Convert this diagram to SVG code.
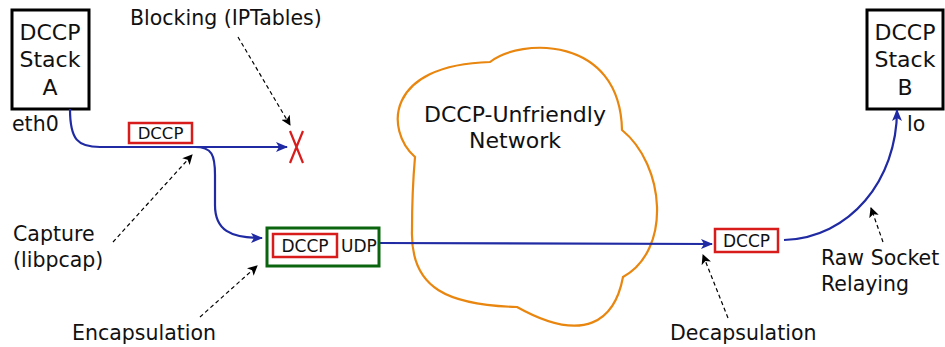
<svg xmlns="http://www.w3.org/2000/svg" width="945" height="347" viewBox="0 0 945 347">
<defs>
<style>
text{font-family:"DejaVu Sans",sans-serif;fill:#111}
.lbl{font-size:20.5px}
.big{font-size:22px}
.small{font-size:16.5px}
.stack{fill:#fff;stroke:#000;stroke-width:3}
.pkt{fill:#fff;stroke:#d81c1c;stroke-width:2.5}
.flow{fill:none;stroke:#1f2aa3;stroke-width:2.2}
.note{fill:none;stroke:#000;stroke-width:1.2;stroke-dasharray:4,3}
</style>
<marker id="blue" viewBox="0 0 12 10" refX="11" refY="5" markerWidth="12" markerHeight="10" markerUnits="userSpaceOnUse" orient="auto">
<path d="M0,0 L12,5 L0,10 L3,5 Z" fill="#1f2aa3"/>
</marker>
<marker id="blk" viewBox="0 0 10 10" refX="9" refY="5" markerWidth="10" markerHeight="10" markerUnits="userSpaceOnUse" orient="auto">
<path d="M0,0 L10,5 L0,10 L2.5,5 Z" fill="#000"/>
</marker>
</defs>
<g id="cloud">
<path d="M415,157 C385,130 385,65 490,62 C520,38 620,35 622,130 C665,165 672,250 623,277 C615,320 585,345 517,307 C450,305 410,290 412,230 C412,200 413,180 415,157 Z" fill="none" stroke="#e8860f" stroke-width="2.2"/>
<text class="big" x="515" y="122" text-anchor="middle">DCCP-Unfriendly</text>
<text class="big" x="515" y="148" text-anchor="middle">Network</text>
</g>
<g id="stackA">
<rect class="stack" x="12" y="10" width="77" height="99"/>
<text class="big" x="50" y="40" text-anchor="middle">DCCP</text>
<text class="big" x="50" y="67" text-anchor="middle">Stack</text>
<text class="big" x="50" y="95" text-anchor="middle">A</text>
<text class="lbl" x="12" y="131">eth0</text>
</g>
<g id="stackB">
<rect class="stack" x="867" y="10" width="76" height="99"/>
<text class="big" x="905" y="40" text-anchor="middle">DCCP</text>
<text class="big" x="905" y="67" text-anchor="middle">Stack</text>
<text class="big" x="905" y="95" text-anchor="middle">B</text>
<text class="lbl" x="907" y="131">lo</text>
</g>
<g id="connectors">
<path class="flow" d="M70,109 C70,140 78,147 100,147 L287,147" marker-end="url(#blue)"/>
<path class="flow" d="M195,147 C212,147 215,155 215,175 L215,205 C215,230 230,238 262,238" marker-end="url(#blue)"/>
<path class="flow" d="M379,243 L712,244" marker-end="url(#blue)"/>
<path class="flow" d="M784,240 C850,238 897,180 897,110" marker-end="url(#blue)"/>
<path class="note" d="M238,37 L290,125" marker-end="url(#blk)"/>
<path class="note" d="M113,242 L192,155" marker-end="url(#blk)"/>
<path class="note" d="M200,317 L257,266" marker-end="url(#blk)"/>
<path class="note" d="M728,318 L703,255" marker-end="url(#blk)"/>
<path class="note" d="M883,242 L871,208" marker-end="url(#blk)"/>
</g>
<g id="blocked">
<path d="M290,131 L303,163 M303,131 L290,163" stroke="#d81c1c" stroke-width="2.2" fill="none"/>
</g>
<g id="pktA">
<rect class="pkt" x="129" y="123" width="63" height="20"/>
<text class="small" x="160.5" y="139" text-anchor="middle">DCCP</text>
</g>
<g id="encap">
<rect x="267" y="228" width="112" height="38" fill="#fff" stroke="#0b650f" stroke-width="3"/>
<rect class="pkt" x="273" y="234" width="64" height="23"/>
<text x="305" y="252" text-anchor="middle" style="font-size:17px">DCCP</text>
<text x="341" y="252" style="font-size:17px">UDP</text>
</g>
<g id="pktB">
<rect class="pkt" x="715" y="229" width="63" height="23"/>
<text x="746.5" y="246.5" text-anchor="middle" style="font-size:17px">DCCP</text>
</g>
<g id="notes">
<text class="lbl" x="130" y="25">Blocking (IPTables)</text>
<text class="lbl" x="13" y="241">Capture</text>
<text class="lbl" x="13" y="267">(libpcap)</text>
<text class="lbl" x="72" y="340">Encapsulation</text>
<text class="lbl" x="670" y="340">Decapsulation</text>
<text class="lbl" x="821" y="265">Raw Socket</text>
<text class="lbl" x="821" y="291">Relaying</text>
</g>
</svg>
